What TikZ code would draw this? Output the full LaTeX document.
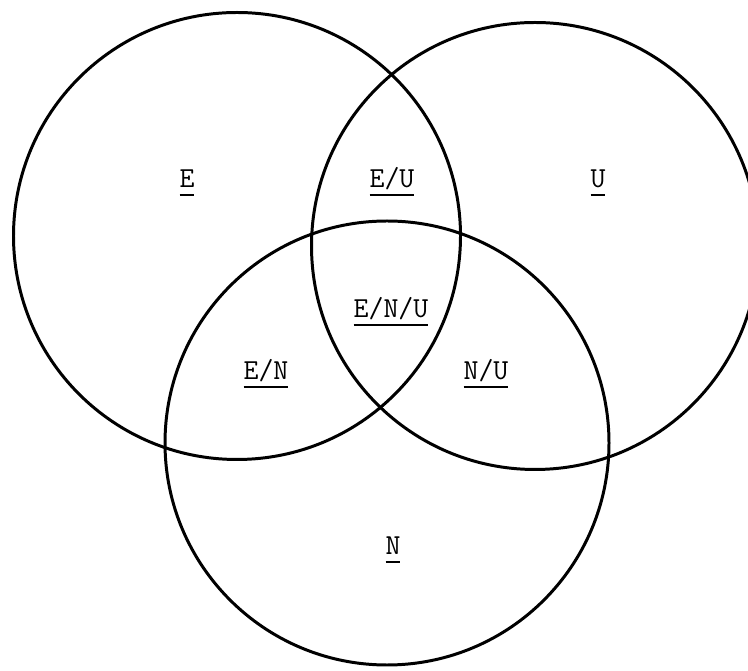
\documentclass[tikz,border=0pt]{standalone}
\usepackage{tikz}
\newcommand{\regionname}[1]{\setbox0=\hbox{#1}\rlap{\rule[-4.4pt]{\wd0}{1.2pt}}\box0}

\begin{document}
\begin{tikzpicture}[set/.style={draw,circle,line width=1.7pt,minimum size=8.94cm,inner sep=0pt},
lab/.style={anchor=base,inner sep=0pt,font=\fontsize{16.5}{19}\selectfont\ttfamily}]
\useasboundingbox (0,0) rectangle (14.96,13.4);
\clip (0,0) rectangle (14.96,13.4);
\node[set] (e) at (4.74,8.68) {};
\node[set] (u) at (10.70,8.48) {};
\node[set,minimum size=8.88cm] (n) at (7.74,4.54) {};
\node[lab] (le) at (3.74,9.64) {\regionname{E}};
\node[lab] (leu) at (7.84,9.64) {\regionname{E/U}};
\node[lab] (lu) at (11.96,9.64) {\regionname{U}};
\node[lab] (lenu) at (7.82,7.04) {\regionname{E/N/U}};
\node[lab] (len) at (5.32,5.80) {\regionname{E/N}};
\node[lab] (lnu) at (9.72,5.80) {\regionname{N/U}};
\node[lab] (ln) at (7.86,2.30) {\regionname{N}};
\end{tikzpicture}
\end{document}
